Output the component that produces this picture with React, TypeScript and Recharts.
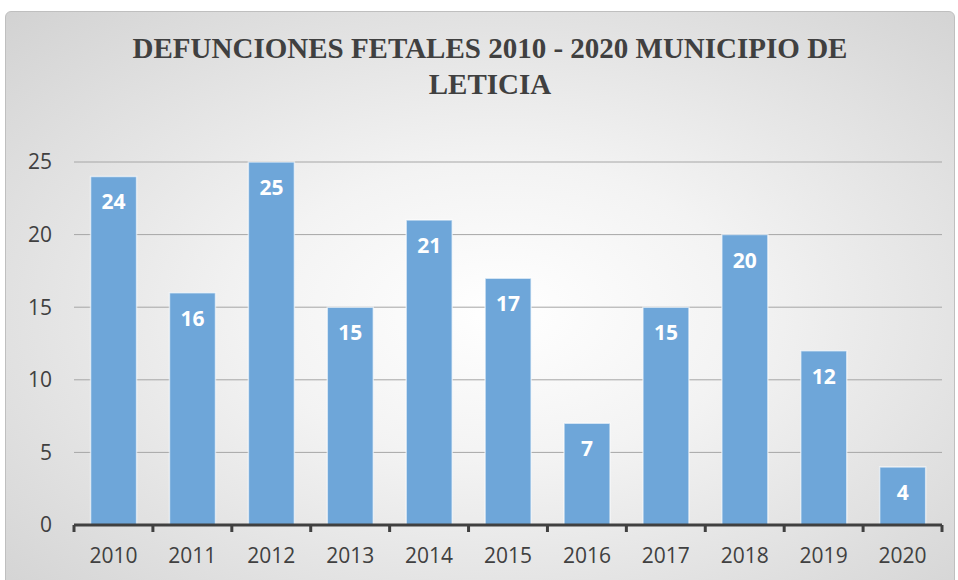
import React from "react";
import { BarChart, Bar, XAxis, YAxis, CartesianGrid, LabelList } from "recharts";

const years = ["2010", "2011", "2012", "2013", "2014", "2015", "2016", "2017", "2018", "2019", "2020"];
const deaths = [24, 16, 25, 15, 21, 17, 7, 15, 20, 12, 4];
const yTicks = [0, 5, 10, 15, 20, 25];

const data = years.map((year, i) => ({ year, value: deaths[i] }));

const W = 958;
const H = 580;
const M = { top: 162, right: 16, bottom: 25, left: 0 };
const Y_AXIS_W = 74;
const band = (W - M.left - M.right - Y_AXIS_W) / years.length;

const XTick = (props: any) => {
  const { x, y, payload, index } = props;
  const axisY = y - 8;
  return (
    <g>
      <line x1={x - band / 2} y1={axisY} x2={x - band / 2} y2={axisY + 7} stroke="#404040" strokeWidth={3} />
      {index === years.length - 1 && (
        <line x1={x + band / 2} y1={axisY} x2={x + band / 2} y2={axisY + 7} stroke="#404040" strokeWidth={3} />
      )}
      <text x={x} y={axisY + 38} textAnchor="middle" fill="#404040" fontSize={21} fontFamily="'Open Sans', sans-serif">
        {payload.value}
      </text>
    </g>
  );
};

export default function App() {
  return (
    <div style={{ position: "absolute", left: 0, top: 0, width: W, height: H, overflow: "hidden", background: "#fff" }}>
      <div
        style={{
          position: "absolute",
          left: 5,
          top: 11,
          width: W - 10,
          height: H + 20,
          border: "1px solid #bfbfbf",
          borderRadius: 6,
          background: "radial-gradient(ellipse at 52% 50%, #ffffff 0%, #f3f3f3 35%, #d2d2d2 100%)",
        }}
      />
      <div
        style={{
          position: "absolute",
          left: 0,
          top: 30,
          width: W,
          textAlign: "center",
          paddingLeft: 22,
          boxSizing: "border-box",
          fontFamily: "'Liberation Serif', 'Times New Roman', serif",
          fontWeight: "bold",
          fontSize: 29,
          lineHeight: "36px",
          color: "#404040",
        }}
      >
        DEFUNCIONES FETALES 2010 - 2020 MUNICIPIO DE
        <br />
        LETICIA
      </div>
      <div style={{ position: "absolute", left: 0, top: 0 }}>
        <BarChart width={W} height={H} data={data} margin={M} barCategoryGap="21%">
          <CartesianGrid vertical={false} stroke="#a6a6a6" strokeWidth={1} />
          <XAxis
            dataKey="year"
            height={30}
            axisLine={{ stroke: "#404040", strokeWidth: 3 }}
            tickLine={false}
            tick={<XTick />}
            interval={0}
          />
          <YAxis
            width={Y_AXIS_W}
            domain={[0, 25]}
            ticks={yTicks}
            axisLine={false}
            tickLine={false}
            tickMargin={16}
            tick={{ fill: "#404040", fontSize: 21, fontFamily: "'Open Sans', sans-serif" }}
          />
          <Bar dataKey="value" fill="#6EA6D9" stroke="rgba(255,255,255,0.6)" strokeWidth={1.5} isAnimationActive={false}>
            <LabelList
              dataKey="value"
              position="insideTop"
              offset={18}
              fill="#ffffff"
              fontSize={21}
              fontWeight="bold"
              fontFamily="'Open Sans', sans-serif"
            />
          </Bar>
        </BarChart>
      </div>
    </div>
  );
}
